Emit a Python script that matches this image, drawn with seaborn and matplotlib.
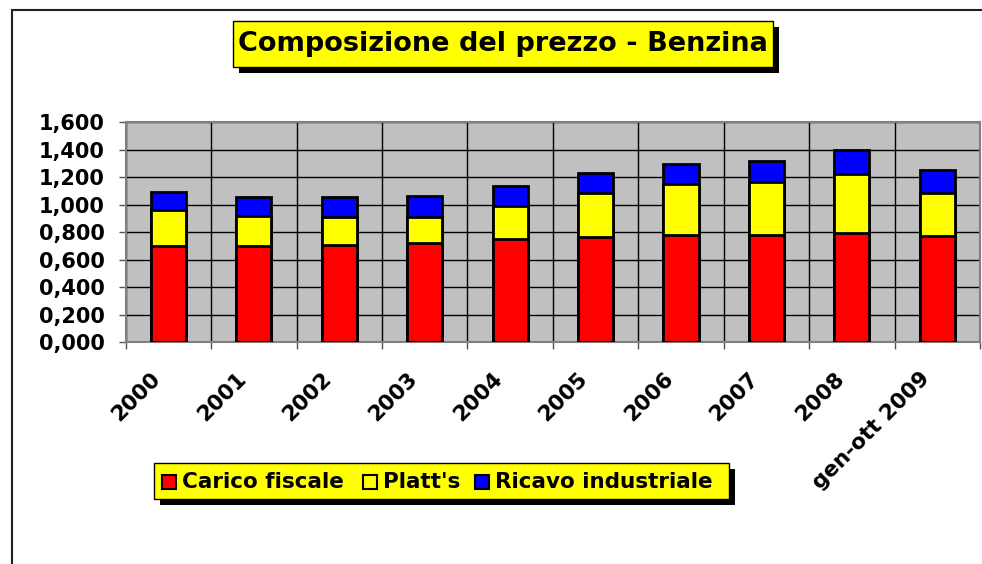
import numpy as np
import pandas as pd
import matplotlib
matplotlib.use("Agg")
import matplotlib.pyplot as plt
import seaborn as sns
from matplotlib.patches import Rectangle
from matplotlib.ticker import FuncFormatter, MultipleLocator
from matplotlib.transforms import ScaledTranslation

# data (euro/litre)
anni = ["2000", "2001", "2002", "2003", "2004", "2005", "2006", "2007", "2008", "gen-ott 2009"]
carico_fiscale = [0.703, 0.700, 0.710, 0.720, 0.751, 0.768, 0.780, 0.780, 0.793, 0.773]
platts = [0.259, 0.218, 0.199, 0.194, 0.238, 0.318, 0.371, 0.383, 0.429, 0.311]
ricavo_industriale = [0.129, 0.141, 0.145, 0.150, 0.150, 0.148, 0.148, 0.153, 0.174, 0.167]

df = pd.DataFrame({"anno": anni, "carico": carico_fiscale, "platts": platts, "ricavo": ricavo_industriale})
df["liv2"] = df["carico"] + df["platts"]
df["liv3"] = df["liv2"] + df["ricavo"]

sns.set_style("white")
plt.rcParams["font.family"] = ["DejaVu Sans"]
plt.rcParams["font.weight"] = "bold"
plt.rcParams["text.color"] = "black"
plt.rcParams["xtick.labelcolor"] = "black"
plt.rcParams["ytick.labelcolor"] = "black"

W, H = 982, 564
fig = plt.figure(figsize=(W / 100, H / 100), dpi=100)
ax = fig.add_axes([125.7 / W, 1 - 342.3 / H, (980 - 125.7) / W, (342.3 - 122.3) / H])
ax.set_facecolor("#c0c0c0")

# stacked bars drawn back to front
bar_kw = dict(width=0.41, edgecolor="black", linewidth=2, order=anni, ax=ax, zorder=3)
sns.barplot(data=df, x="anno", y="liv3", color="#0000ff", saturation=1, **bar_kw)
sns.barplot(data=df, x="anno", y="liv2", color="#ffff00", saturation=1, **bar_kw)
sns.barplot(data=df, x="anno", y="carico", color="#ff0000", saturation=1, **bar_kw)

ax.set_xlim(-0.5, len(anni) - 0.5)
ax.set_ylim(0, 1.6)
ax.yaxis.set_major_locator(MultipleLocator(0.2))
ax.yaxis.set_major_formatter(FuncFormatter(lambda v, p: f"{v:.3f}".replace(".", ",")))
ax.set_xticks(np.arange(-0.5, len(anni), 1.0), minor=True)
ax.grid(axis="y", which="major", color="black", linewidth=1, zorder=0)
ax.grid(axis="x", which="minor", color="black", linewidth=1, zorder=0)
ax.set_axisbelow(True)
ax.set_xlabel("")
ax.set_ylabel("")

ax.tick_params(axis="y", length=5, width=1, pad=10, labelsize=15, color="#555555",
               labelcolor="black", direction="out", left=True)
ax.tick_params(axis="x", which="major", length=0, pad=19, labelsize=15.5, labelcolor="black")
ax.tick_params(axis="x", which="minor", length=5, width=1, color="#555555", direction="out", bottom=True)
shift = ScaledTranslation(-18 / 100, 0, fig.dpi_scale_trans)
for lab in ax.get_xticklabels():
    lab.set_rotation(45)
    lab.set_ha("right")
    lab.set_va("top")
    lab.set_rotation_mode("anchor")
    lab.set_fontweight("bold")
    lab.set_transform(lab.get_transform() + shift)
for lab in ax.get_yticklabels():
    lab.set_fontweight("bold")

for side in ["left", "bottom", "top", "right"]:
    ax.spines[side].set_visible(True)
    ax.spines[side].set_color("#808080")
    ax.spines[side].set_linewidth(1.5)


def px_rect(x0, y0, x1, y1, **kw):
    return Rectangle((x0 / W, 1 - y1 / H), (x1 - x0) / W, (y1 - y0) / H,
                     transform=fig.transFigure, **kw)


# outer chart border (cut at right/bottom)
fig.patches.append(px_rect(11.7, 9.7, 990, 580, facecolor="none", edgecolor="#202020", linewidth=1.5))

# title box with shadow
fig.patches.append(px_rect(238.5, 26.5, 779.3, 72.7, facecolor="black", edgecolor="none"))
fig.patches.append(px_rect(232.7, 20.7, 773.3, 66.5, facecolor="#ffff00", edgecolor="black", linewidth=1))
fig.text((232.7 + 773.3) / 2 / W, 1 - 44 / H, "Composizione del prezzo - Benzina",
         ha="center", va="center", fontsize=19.5, fontweight="bold", color="black")

# legend box with shadow
fig.patches.append(px_rect(159.5, 469, 735, 505, facecolor="black", edgecolor="none"))
fig.patches.append(px_rect(154.3, 463.3, 729.3, 499.3, facecolor="#ffff00", edgecolor="black", linewidth=1))
voci = [("Carico fiscale", "#ff0000", 162), ("Platt's", "#ffff00", 363), ("Ricavo industriale", "#0000ff", 475)]
for nome, col, x0 in voci:
    fig.patches.append(px_rect(x0, 475, x0 + 14, 489, facecolor=col, edgecolor="black", linewidth=1.5))
    fig.text((x0 + 20) / W, 1 - 482 / H, nome, ha="left", va="center", fontsize=15.5,
             fontweight="bold", color="black")

fig.savefig("out.png", dpi=100)
